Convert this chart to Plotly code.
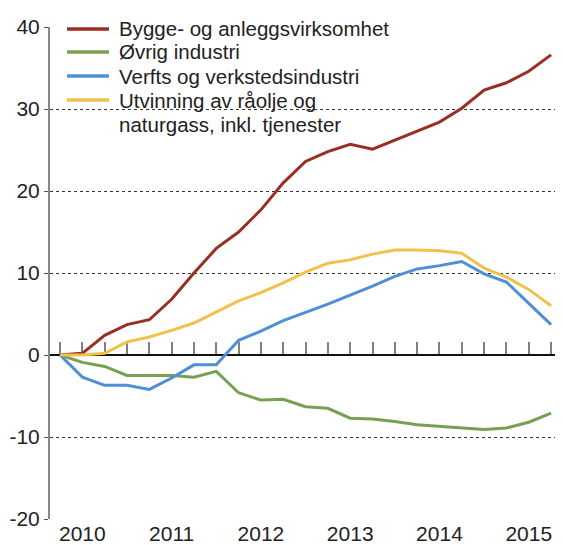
import plotly.graph_objects as go

quarters = list(range(23))
year_ticks = [1, 5, 9, 13, 17, 21]
year_labels = ["2010", "2011", "2012", "2013", "2014", "2015"]
y_ticks = [-20, -10, 0, 10, 20, 30, 40]
y_labels = ["-20", "-10", "0", "10", "20", "30", "40"]

bygge = [0, 0.2, 2.4, 3.7, 4.3, 6.8, 10.0, 13.0, 15.0, 17.7, 21.0, 23.6, 24.8, 25.7,
         25.1, 26.2, 27.3, 28.4, 30.1, 32.3, 33.2, 34.6, 36.6]
ovrig = [0, -0.9, -1.4, -2.5, -2.5, -2.5, -2.7, -2.0, -4.6, -5.5, -5.4, -6.3, -6.5, -7.7,
         -7.8, -8.1, -8.5, -8.7, -8.9, -9.1, -8.9, -8.2, -7.1]
verfts = [0, -2.7, -3.7, -3.7, -4.2, -2.8, -1.2, -1.2, 1.8, 2.9, 4.2, 5.2, 6.2, 7.3,
          8.4, 9.6, 10.5, 10.9, 11.4, 9.9, 8.9, 6.3, 3.7]
utvinning = [0, 0, 0.2, 1.6, 2.2, 3.0, 3.9, 5.2, 6.6, 7.6, 8.8, 10.1, 11.2, 11.6,
             12.3, 12.8, 12.8, 12.7, 12.4, 10.6, 9.5, 8.0, 6.0]

names = ["Bygge- og anleggsvirksomhet", "Øvrig industri", "Verfts og verkstedsindustri",
         "Utvinning av råolje og", "naturgass, inkl. tjenester"]
colors = ["#992e22", "#77a152", "#4f8fd6", "#f0c24c"]
series = [bygge, ovrig, verfts, utvinning]

# figure geometry (page body has an 8px margin)
W, H = 555, 537
ML, MR, MT, MB = 42, 3, 19, 26
PW, PH = W - ML - MR, H - MT - MB


def px(xpix):
    return (xpix - 8 - ML) / PW


def py(ypix):
    return 1 - (ypix - 8 - MT) / PH


fig = go.Figure()
# helper trace so the zero-line tick axis (xaxis2) is rendered
fig.add_trace(go.Scatter(x=quarters, y=[None] * len(quarters), xaxis="x2", yaxis="y",
                         mode="lines", showlegend=False, hoverinfo="skip"))
for name, col, vals in zip(names, colors, series):
    fig.add_trace(go.Scatter(x=quarters, y=vals, mode="lines", name=name,
                             line=dict(color=col, width=3), showlegend=False))

# legend drawn as annotations + sample lines
shapes = [dict(type="rect", xref="paper", yref="paper", x0=px(58), x1=px(394),
               y0=py(12), y1=py(141), fillcolor="white", line=dict(width=0),
               layer="between")]
entry_y = [29, 52, 76, 100]
for c, yy in zip(colors, entry_y):
    shapes.append(dict(type="line", xref="paper", yref="paper", x0=px(67), x1=px(109),
                       y0=py(yy), y1=py(yy), line=dict(color=c, width=3.5)))
text_y = [29, 52, 76, 100, 124]
annotations = []
for t, yy in zip(names, text_y):
    annotations.append(dict(text=t, xref="paper", yref="paper", x=px(117), y=py(yy),
                            xanchor="left", yanchor="middle", showarrow=False,
                            font=dict(size=20.5, color="#222")))

xr = [-0.45, 22.4]
fig.update_layout(
    width=W, height=H,
    margin=dict(l=ML, r=MR, t=MT, b=MB, autoexpand=False),
    paper_bgcolor="white", plot_bgcolor="white",
    font=dict(family="Liberation Sans, Arial, sans-serif", size=21, color="#222"),
    showlegend=False,
    shapes=shapes,
    annotations=annotations,
    xaxis=dict(range=xr, tickvals=year_ticks, ticktext=year_labels, ticks="",
               showgrid=False, zeroline=False, showline=False, automargin=False),
    xaxis2=dict(overlaying="x", anchor="free", position=1/3, range=xr,
                tickvals=quarters, ticks="inside", ticklen=12, tickwidth=2,
                tickcolor="#808080", showline=True, linecolor="#111", linewidth=1.5,
                showgrid=False, zeroline=False, showticklabels=False,
                layer="below traces", automargin=False),
    yaxis=dict(range=[-20, 40], tickvals=y_ticks, ticktext=y_labels,
               showgrid=True, gridcolor="#333", griddash="dot", gridwidth=1,
               zeroline=False, showline=True, linecolor="#888", linewidth=2,
               ticks="outside", ticklen=4, tickcolor="#555", automargin=False),
)
fig.write_html("out.html")
